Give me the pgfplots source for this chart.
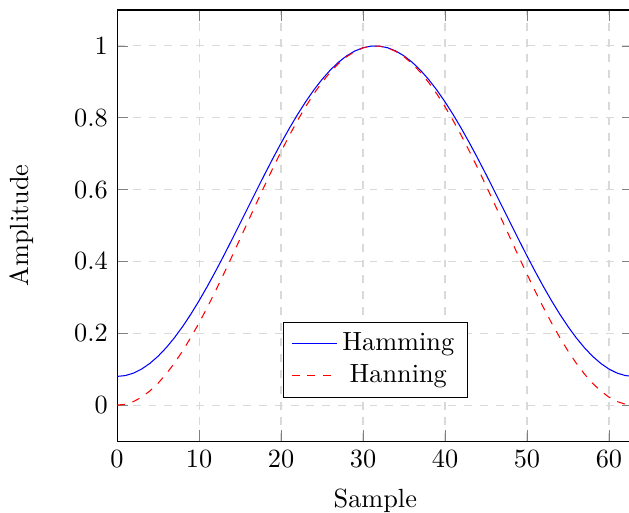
\documentclass[border=0pt]{standalone}
\usepackage{pgfplots}
\usepackage{pgfplotstable}
\pgfplotsset{compat=1.18}
\pgfplotstableread{
n hamming hanning
0 0.080000 0.000000
1 0.082286 0.002485
2 0.089121 0.009914
3 0.100436 0.022214
4 0.116121 0.039262
5 0.136018 0.060889
6 0.159930 0.086881
7 0.187620 0.116978
8 0.218811 0.150882
9 0.253195 0.188255
10 0.290429 0.228727
11 0.330143 0.271895
12 0.371943 0.317330
13 0.415414 0.364580
14 0.460122 0.413176
15 0.505624 0.462635
16 0.551468 0.512465
17 0.597198 0.562172
18 0.642360 0.611261
19 0.686504 0.659244
20 0.729192 0.705644
21 0.770000 0.750000
22 0.808522 0.791872
23 0.844376 0.830843
24 0.877204 0.866526
25 0.906681 0.898567
26 0.932514 0.926646
27 0.954446 0.950485
28 0.972259 0.969847
29 0.985775 0.984539
30 0.994862 0.994416
31 0.999428 0.999379
32 0.999428 0.999379
33 0.994862 0.994416
34 0.985775 0.984539
35 0.972259 0.969847
36 0.954446 0.950485
37 0.932514 0.926646
38 0.906681 0.898567
39 0.877204 0.866526
40 0.844376 0.830843
41 0.808522 0.791872
42 0.770000 0.750000
43 0.729192 0.705644
44 0.686504 0.659244
45 0.642360 0.611261
46 0.597198 0.562172
47 0.551468 0.512465
48 0.505624 0.462635
49 0.460122 0.413176
50 0.415414 0.364580
51 0.371943 0.317330
52 0.330143 0.271895
53 0.290429 0.228727
54 0.253195 0.188255
55 0.218811 0.150882
56 0.187620 0.116978
57 0.159930 0.086881
58 0.136018 0.060889
59 0.116121 0.039262
60 0.100436 0.022214
61 0.089121 0.009914
62 0.082286 0.002485
63 0.080000 0.000000
}\windows
\begin{document}
\begin{tikzpicture}
\path[use as bounding box, clip] (-44.5pt,-27pt) rectangle (194.65pt,167.7pt);
\begin{axis}[
  at={(0pt,0pt)}, anchor=south west,
  scale only axis,
  width=196.4pt, height=163.9pt,
  xmin=0, xmax=63, ymin=-0.1, ymax=1.1,
  xtick={0,10,...,60},
  ytick={0,0.2,0.4,0.6,0.8,1},
  grid=major,
  major grid style={dashed, gray!30},
  xlabel={Sample}, ylabel={Amplitude},
  xlabel style={yshift=-1.5pt},
  ylabel style={at={(axis description cs:-0.184,0.5)}, anchor=center},
  legend style={at={(0.5,0.1)}, anchor=south},
  legend cell align=center,
]
\addplot[blue, no markers] table[x=n, y=hamming] {\windows};
\addlegendentry{Hamming}
\addplot[red, dashed, no markers] table[x=n, y=hanning] {\windows};
\addlegendentry{Hanning}
\end{axis}
\end{tikzpicture}
\end{document}
